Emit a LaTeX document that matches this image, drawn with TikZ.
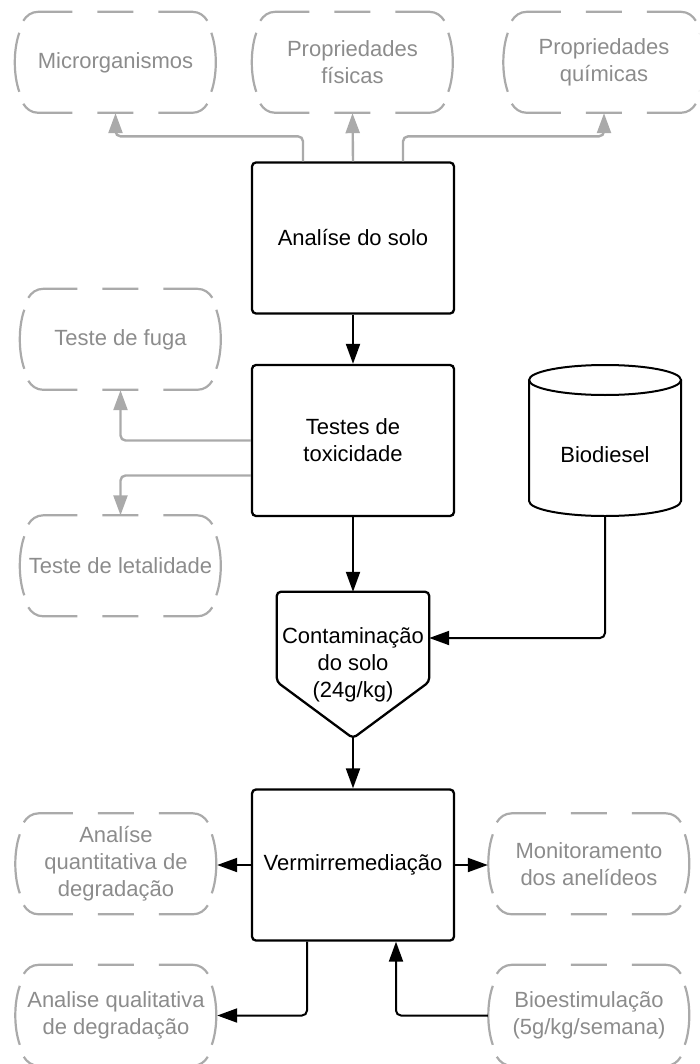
\documentclass[tikz,border=0pt]{standalone}
\usepackage{fontspec}
\setmainfont{Liberation Sans}
\usetikzlibrary{arrows.meta,calc}
\definecolor{lgray}{RGB}{170,170,170}
\definecolor{tgray}{RGB}{140,140,140}
\begin{document}
\begin{tikzpicture}[x=1pt,y=-1pt,
  font=\fontsize{22}{27}\selectfont,
  softnode/.style={draw=none, minimum width=202pt, minimum height=101pt, inner sep=0pt, align=center, text=tgray},
  hardbox/.style={draw=black, line width=2.3pt, rounded corners=4pt, minimum width=202pt, minimum height=151pt, inner sep=0pt, align=center},
  softseg/.style={draw=lgray, line width=2.2pt},
  garrow/.style={draw=lgray, line width=2.4pt, rounded corners=5pt, -{Triangle[length=20pt,width=14pt]}},
  karrow/.style={draw=black, line width=2pt, rounded corners=5pt, -{Triangle[length=20pt,width=14pt]}},
  shapeline/.style={draw=black, line width=2.3pt, rounded corners=4pt},
]
\useasboundingbox (0,0) rectangle (699,1064);
\clip (0,0) rectangle (699,1064);

% soft (dashed) nodes
\node[softnode] (mic) at (115.5,62.5) {Microrganismos};
\node[softnode] (fis) at (352.5,62.5) {Propriedades\\físicas};
\node[softnode] (qui) at (604,62.5) {Propriedades\\químicas};
\node[softnode] (fuga) at (120.5,339.5) {Teste de fuga};
\node[softnode] (leta) at (120.5,566) {Teste de letalidade};
\node[softnode] (quant) at (116,864) {Analíse\\quantitativa de\\degradação};
\node[softnode] (qual) at (116,1015.5) {Analise qualitativa\\de degradação};
\node[softnode] (moni) at (589,864) {Monitoramento\\dos anelídeos};
\node[softnode] (bio) at (589,1015.5) {Bioestimulação\\(5g/kg/semana)};

\foreach \n in {mic,fis,qui,fuga,leta,quant,qual,moni,bio}{
  \begin{scope}[shift={(\n.north west)}]
  \draw[softseg]
    (58,0) -- (24,0) .. controls (17,0) and (12,4) .. (9,9)
    (83,0) -- (119,0)
    (144,0) -- (178,0) .. controls (185,0) and (190,4) .. (193,9)
    (197,21) .. controls (203,38) and (203,63) .. (197,80)
    (5,21) .. controls (-1,38) and (-1,63) .. (5,80)
    (58,101) -- (24,101) .. controls (17,101) and (12,97) .. (9,92)
    (83,101) -- (119,101)
    (144,101) -- (178,101) .. controls (185,101) and (190,97) .. (193,92);
  \end{scope}
}

% main boxes
\node[hardbox] (ana) at (353,238) {Analíse do solo};
\node[hardbox] (tox) at (353,440.5) {Testes de\\toxicidade};
\node[hardbox] (verm) at (353,865) {Vermirremediação};

% contamination (off-page shape)
\node[draw=none, minimum width=152pt, minimum height=146pt, inner sep=0pt, align=center] (cont) at (353,665) {Contaminação\\do solo\\(24g/kg)};
\draw[shapeline] (cont.north west) -- (cont.north east) -- ([yshift=-90pt]cont.north east)
   -- (cont.south) -- ([yshift=-90pt]cont.north west) -- cycle;

% biodiesel cylinder
\node (bd) at (605,455) {Biodiesel};
\coordinate (bdbot) at (605,516);
\draw[draw=black, line width=2pt] (605,380) ellipse[x radius=76, y radius=15];
\draw[draw=black, line width=2pt] (529,380) -- (529,501) arc[start angle=180, end angle=0, x radius=76, y radius=15] -- (681,380);

% gray connectors
\draw[garrow] ([xshift=-50pt]ana.north) -- ++(0,-25) -| (mic.south);
\draw[garrow] (ana.north) -- (fis.south);
\draw[garrow] ([xshift=50pt]ana.north) -- ++(0,-25) -| (qui.south);
\draw[garrow] (tox.west) -| (fuga.south);
\draw[garrow] ([yshift=-35pt]tox.west) -| (leta.north);

% black connectors
\draw[karrow] (ana.south) -- (tox.north);
\draw[karrow] (tox.south) -- (cont.north);
\draw[karrow] (bdbot) |- ([yshift=27pt]cont.east);
\draw[karrow] (cont.south) -- (verm.north);
\draw[karrow] (verm.west) -- (verm.west -| quant.east);
\draw[karrow] (verm.east) -- (verm.east -| moni.west);
\draw[karrow] ([xshift=-46pt]verm.south) |- (qual.east);
\draw[karrow] (bio.west) -| ([xshift=43pt]verm.south);
\end{tikzpicture}
\end{document}
